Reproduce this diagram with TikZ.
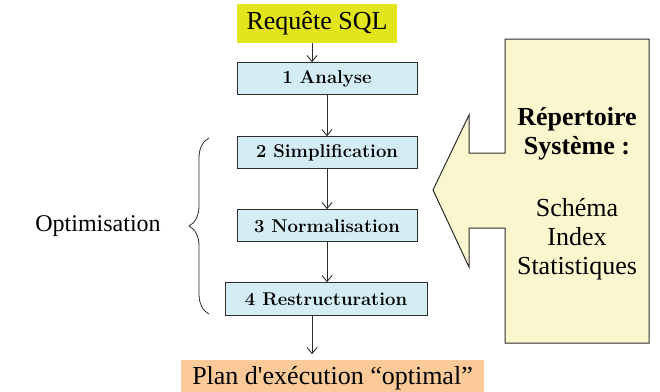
\documentclass[tikz,border=0pt]{standalone}
\usepackage{fontspec}
\usepackage{xcolor}
\usepackage{tikz}
\usetikzlibrary{arrows.meta, positioning, decorations.pathreplacing}
\newfontfamily\tnr{Liberation Serif}
\definecolor{linecol}{RGB}{45, 45, 45}
\definecolor{querybg}{RGB}{226, 228, 28}
\definecolor{stagebg}{RGB}{212, 236, 243}
\definecolor{resultbg}{RGB}{251, 202, 152}
\definecolor{catalogbg}{RGB}{250, 247, 206}
\tikzset{
    query/.style={rectangle, fill=querybg, inner sep=0pt, minimum width=160pt, minimum height=39pt, font=\tnr\fontsize{26}{29}\selectfont},
    stage/.style={rectangle, draw=linecol, fill=stagebg, line width=1pt, inner sep=0pt, minimum width=180pt, minimum height=32pt, font=\fontsize{18.5}{20}\selectfont\bfseries},
    result/.style={rectangle, fill=resultbg, inner sep=0pt, minimum width=303pt, minimum height=35pt, font=\tnr\fontsize{26}{29}\selectfont},
    catalog/.style={draw=linecol, fill=catalogbg, line width=1pt, line join=miter},
    arrow/.style={-{Straight Barb[length=6pt, width=10pt]}, line width=0.9pt, color=linecol},
    brace_line/.style={decorate, decoration={brace, amplitude=20pt}, line width=0.8pt, color=linecol},
    label_text/.style={font=\tnr\fontsize{26}{29}\selectfont, align=center, inner sep=0pt}
}
\begin{document}
\begin{tikzpicture}[x=1pt, y=-1pt]
    \useasboundingbox (0,0) rectangle (660,391);

    \node (sql) [query] at (317,23.5) {Requête SQL};

    \node (analyse) [stage, below=19pt of sql, xshift=10pt] {1 Analyse};
    \node (simpl)   [stage, below=41pt of analyse] {2 Simplification};
    \node (norm)    [stage, below=40pt of simpl] {3 Normalisation};
    \node (restr)   [stage, below=40pt of norm, xshift=-1pt, minimum width=202pt, minimum height=33pt] {4 Restructuration};

    \node (plan) [result, below=44pt of restr, xshift=6.5pt] {Plan d'exécution “optimal”};

    \draw [arrow] ([xshift=-5pt]sql.south) -- ([xshift=-5pt]sql.south |- analyse.north);
    \draw [arrow] (analyse.south) -- (simpl.north);
    \draw [arrow] (simpl.south) -- (norm.north);
    \draw [arrow] (norm.south) -- (norm.south |- restr.north);
    \draw [arrow] ([xshift=-14pt]restr.south) -- ([xshift=-14pt,yshift=6pt]restr.south |- plan.north);

    % optimisation group
    \coordinate (btop) at (209,138);
    \coordinate (bbot) at (209,314);
    \draw [brace_line] (bbot) -- (btop);
    \node (opt) [label_text, font=\tnr\fontsize{24}{27}\selectfont] at (98,226) {Optimisation};

    % system catalog
    \draw [catalog] (649,39) -- (505,39) -- (505,153) -- (469,153) -- (469,115) -- (433,190)
        -- (469,267) -- (469,228) -- (505,228) -- (505,343) -- (649,343) -- cycle;
    \node (rep) [label_text] at (577,194) {\textbf{Répertoire}\\\textbf{Système :}\\[33pt]Schéma\\Index\\Statistiques};

\end{tikzpicture}
\end{document}
